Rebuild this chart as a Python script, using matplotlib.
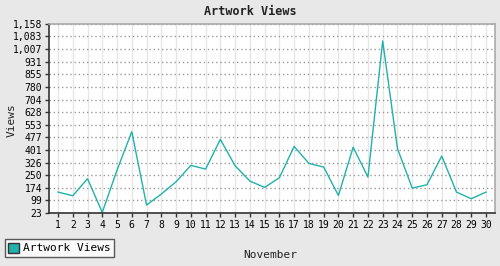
import numpy as np
from matplotlib import pyplot as plt
from matplotlib.patches import Patch

days = list(range(1, 31))
views = [149, 127, 229, 27, 281, 511, 71, 137, 211, 309,
         287, 465, 307, 215, 177, 235, 423, 321, 299, 129,
         418, 239, 1056, 410, 173, 193, 365, 149, 109, 149]
yticks = [23, 99, 174, 250, 326, 401, 477, 553, 628, 704, 780, 855, 931, 1007, 1083, 1158]
ytick_labels = ["23", "99", "174", "250", "326", "401", "477", "553", "628", "704",
                "780", "855", "931", "1,007", "1,083", "1,158"]

teal = "#20b2aa"
plt.rcParams['font.family'] = ['DejaVu Sans Mono']

fig = plt.figure(figsize=(5, 2.66), dpi=100, facecolor="#e8e8e8")
ax = fig.add_axes([0.098, 0.199, 0.892, 0.711])
ax.set_facecolor("white")

ax.plot(days, views, color=teal, lw=1)

ax.set_xlim(0.39, 30.61)
ax.set_ylim(23, 1158)
ax.set_xticks(days)
ax.set_xticklabels([str(d) for d in days], fontsize=7)
ax.set_yticks(yticks)
ax.set_yticklabels(ytick_labels, fontsize=7)
ax.tick_params(length=3, width=1, pad=2, color="#333333")

ax.grid(True, axis="x", color="#e6e6e6", lw=1, ls="-")
ax.grid(True, axis="y", color="#999999", lw=1, ls=(0, (1, 2)))
ax.set_axisbelow(True)

for s in ["left", "bottom"]:
    ax.spines[s].set_color("#333333")
    ax.spines[s].set_linewidth(1.2)
for s in ["top", "right"]:
    ax.spines[s].set_color("#aaaaaa")
    ax.spines[s].set_linewidth(1.2)

fig.text(0.5, 0.955, "Artwork Views", ha="center", va="center",
         fontsize=8.5, fontweight="bold", color="#222222")
fig.text(0.54, 0.04, "November", ha="center", va="center", fontsize=8, color="#222222")
fig.text(0.024, 0.55, "Views", ha="center", va="center", rotation=90, fontsize=8, color="#222222")

handle = Patch(facecolor=teal, edgecolor="#333333", label="Artwork Views")
leg = fig.legend(handles=[handle], loc="lower left", bbox_to_anchor=(0.01, 0.035),
                 fontsize=8, frameon=True, fancybox=False, handlelength=1.0,
                 handleheight=1.0, handletextpad=0.3, borderpad=0.3, borderaxespad=0)
leg.get_frame().set_edgecolor("#333333")
leg.get_frame().set_linewidth(1)

fig.savefig("out.png", dpi=100, facecolor=fig.get_facecolor())
